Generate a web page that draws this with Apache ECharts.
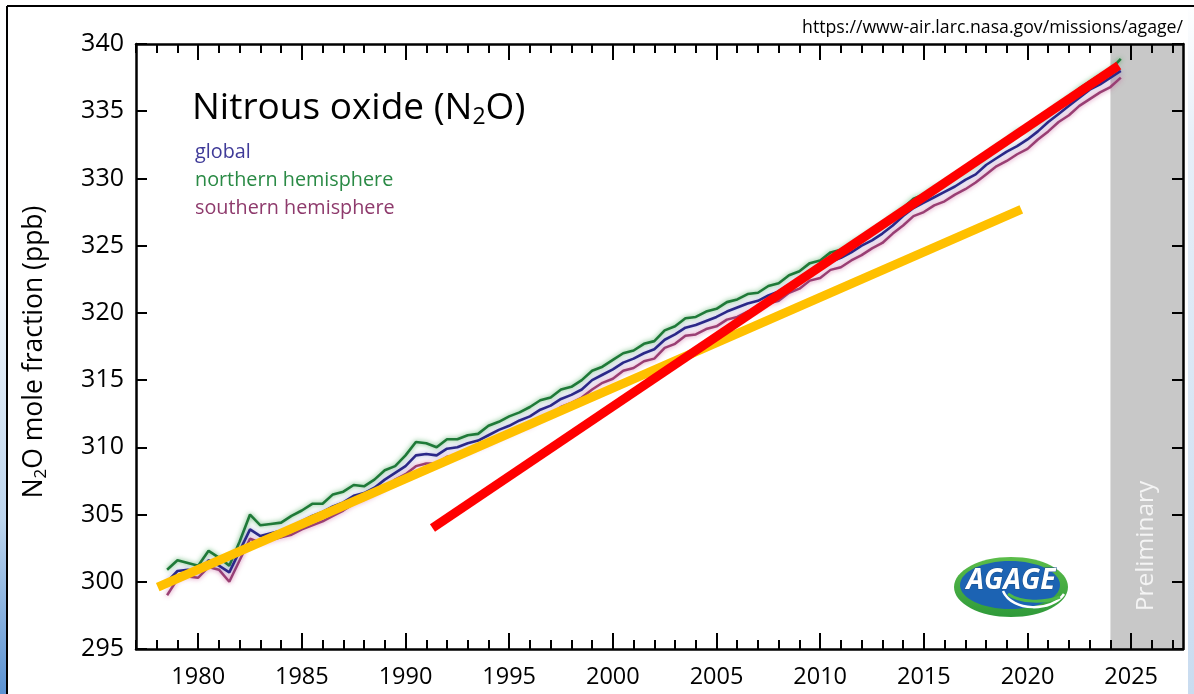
<!DOCTYPE html>
<html><head><meta charset="utf-8">
<script src="https://cdn.jsdelivr.net/npm/echarts@6/dist/echarts.min.js"></script>
<style>html,body{margin:0;padding:0;background:#fff}#c{width:1194px;height:694px}</style>
</head><body><div id="c"></div>
<script>
// ---- data ----
const startYear = 1978.5;   // first sample
const stepYears = 0.5;      // half-year samples
const globalN2O = [
 300.0,300.8,300.9,300.7,301.6,301.2,300.7,302.3,303.9,303.4,
 303.6,303.8,304.1,304.5,304.9,305.2,305.6,305.9,306.4,306.6,
 307.0,307.6,308.1,308.6,309.4,309.5,309.4,309.9,310.0,310.3,
 310.5,310.9,311.3,311.6,312.0,312.3,312.8,313.1,313.6,313.9,
 314.3,315.0,315.4,315.8,316.3,316.6,317.0,317.3,318.0,318.4,
 318.9,319.1,319.4,319.7,320.1,320.4,320.7,320.9,321.3,321.6,
 322.1,322.5,323.0,323.3,323.8,324.1,324.5,325.0,325.4,325.9,
 326.5,327.2,327.8,328.2,328.6,329.0,329.4,329.9,330.3,331.0,
 331.5,332.0,332.4,332.9,333.5,334.2,334.8,335.4,336.0,336.6,
 337.0,337.5,338.0
];
const northN2O = [
 300.9,301.6,301.4,301.2,302.3,301.8,301.2,303.0,305.0,304.2,
 304.3,304.4,304.9,305.3,305.8,305.8,306.5,306.7,307.2,307.1,
 307.6,308.3,308.6,309.4,310.4,310.3,310.0,310.6,310.6,310.9,
 311.0,311.6,311.9,312.3,312.6,313.0,313.5,313.7,314.3,314.5,
 315.0,315.7,316.0,316.5,317.0,317.2,317.7,317.9,318.7,319.0,
 319.6,319.7,320.1,320.3,320.8,321.0,321.4,321.5,322.0,322.2,
 322.8,323.1,323.7,323.9,324.5,324.7,325.2,325.6,326.1,326.5,
 327.2,327.8,328.5,328.8,329.3,329.6,330.1,330.5,331.0,331.6,
 332.3,332.7,333.5,333.6,334.2,334.8,335.5,336.0,336.7,337.2,
 337.7,338.1,338.9
];
const southN2O = [
 299.0,300.2,300.4,300.3,301.1,300.9,300.0,301.6,303.2,302.9,
 303.1,303.3,303.5,303.9,304.2,304.5,304.9,305.3,305.8,306.1,
 306.5,307.0,307.6,308.0,308.6,308.8,308.8,309.3,309.4,309.7,
 310.0,310.3,310.7,311.0,311.4,311.6,312.2,312.5,313.0,313.3,
 313.7,314.3,314.8,315.1,315.7,315.9,316.4,316.6,317.4,317.7,
 318.3,318.4,318.8,319.0,319.5,319.7,320.1,320.2,320.7,320.9,
 321.5,321.8,322.4,322.6,323.2,323.4,323.9,324.3,324.8,325.2,
 325.9,326.5,327.2,327.5,328.0,328.3,328.8,329.2,329.7,330.3,
 330.9,331.3,331.8,332.2,332.9,333.5,334.2,334.7,335.4,335.9,
 336.4,336.8,337.5
];
const redTrend = [[1991.3, 304.0], [2024.4, 338.4]];
const yellowTrend = [[1978.05, 299.6], [2019.7, 327.7]];
const majorYears = [1980, 1985, 1990, 1995, 2000, 2005, 2010, 2015, 2020, 2025];
const minorYears = [1977,1978,1979,1980,1981,1982,1983,1984,1985,1986,1987,1988,1989,1990,1991,1992,1993,1994,1995,1996,1997,1998,1999,2000,2001,2002,2003,2004,2005,2006,2007,2008,2009,2010,2011,2012,2013,2014,2015,2016,2017,2018,2019,2020,2021,2022,2023,2024,2025,2026,2027];
const xMin = 1977, xMax = 2027.5, yMin = 295, yMax = 340, yStep = 5;
const preliminaryFrom = 2024;
const legendNames = ['global', 'northern hemisphere', 'southern hemisphere'];
const legendColors = ['#3f3a98', '#2a8a45', '#8e3a6c'];

const pairs = arr => arr.map((v, i) => [startYear + i * stepYears, v]);
const FONT = '"Open Sans", "Noto Sans", sans-serif';

const chart = echarts.init(document.getElementById('c'), null, {renderer: 'canvas'});

function xAx(pos, ticks, len, showLine, showLabels) {
  return {
    type: 'value', position: pos, min: xMin, max: xMax, z: 10,
    axisLine: {show: showLine, onZero: false, lineStyle: {color: '#000', width: 2.5}},
    axisTick: {show: true, inside: true, length: len, customValues: ticks, lineStyle: {color: '#000', width: 2}},
    axisLabel: showLabels ? {show: true, customValues: majorYears, color: '#000', fontSize: 23.5, fontFamily: FONT, margin: 16,
      formatter: v => String(v)} : {show: false},
    splitLine: {show: false}
  };
}
function yAx(pos, showLabels) {
  return {
    type: 'value', position: pos, min: yMin, max: yMax, interval: yStep, z: 10,
    axisLine: {show: true, onZero: false, lineStyle: {color: '#000', width: 2.5}},
    axisTick: {show: true, inside: true, length: 11, lineStyle: {color: '#000', width: 2}},
    axisLabel: showLabels ? {show: true, color: '#000', fontSize: 25, fontFamily: FONT, margin: 12} : {show: false},
    splitLine: {show: false}
  };
}

const lineSeries = (name, data, color, width, halo) => ({
  name, type: 'line', data: pairs(data), xAxisIndex: 0, yAxisIndex: 0,
  showSymbol: false, smooth: false, z: 3,
  lineStyle: {color, width, shadowColor: halo, shadowBlur: 5}
});

chart.setOption({
  animation: false,
  backgroundColor: '#fff',
  grid: {left: 136, right: 11, top: 44, bottom: 45},
  xAxis: [
    xAx('bottom', majorYears, 16, true, true),
    xAx('bottom', minorYears, 9, false, false),
    xAx('top', majorYears, 16, true, false),
    xAx('top', minorYears, 9, false, false)
  ],
  yAxis: [yAx('left', true), yAx('right', false)],
  series: [
    {
      type: 'line', data: [[xMax, yMin]], showSymbol: false, z: 1, silent: true,
      lineStyle: {opacity: 0},
      markArea: {silent: true, itemStyle: {color: '#c8c8c8'},
        data: [[{xAxis: preliminaryFrom}, {xAxis: xMax}]]}
    },
    lineSeries('southern hemisphere', southN2O, '#9a3f74', 2.5, 'rgba(205,95,155,0.8)'),
    lineSeries('northern hemisphere', northN2O, '#1f7a38', 2.6, 'rgba(60,160,80,0.8)'),
    lineSeries('global', globalN2O, '#2b2888', 2.6, 'rgba(80,80,180,0.5)'),
    {type: 'line', data: yellowTrend, showSymbol: false, z: 5,
     lineStyle: {color: '#ffc000', width: 9, cap: 'butt'}},
    {type: 'line', data: redTrend, showSymbol: false, z: 6,
     lineStyle: {color: '#ff0000', width: 9, cap: 'butt'}}
  ],
  graphic: [
    // slide frame
    {type: 'rect', z: 0, silent: true, shape: {x: 0, y: 0, width: 7, height: 694},
     style: {fill: new echarts.graphic.LinearGradient(0, 0, 0, 1, [
       {offset: 0, color: '#ffffff'}, {offset: 0.4, color: '#f4f8fc'},
       {offset: 0.75, color: '#bcd5ee'}, {offset: 1, color: '#5b92d2'}])}},
    {type: 'rect', z: 0, silent: true, shape: {x: 1188, y: 0, width: 6, height: 694},
     style: {fill: new echarts.graphic.LinearGradient(0, 0, 0, 1, [
       {offset: 0, color: '#ffffff'}, {offset: 0.2, color: '#e6eff8'},
       {offset: 1, color: '#c9dcf0'}])}},
    {type: 'line', z: 100, silent: true, shape: {x1: 7, y1: 6, x2: 1194, y2: 6}, style: {stroke: '#000', lineWidth: 2}},
    {type: 'line', z: 100, silent: true, shape: {x1: 7, y1: 6, x2: 7, y2: 694}, style: {stroke: '#000', lineWidth: 2}},
    // url
    {type: 'text', z: 100, x: 1183, y: 28, style: {text: 'https://www-air.larc.nasa.gov/missions/agage/',
      font: '17.7px ' + FONT, fill: '#000', align: 'right', verticalAlign: 'middle'}},
    // title
    {type: 'text', z: 100, x: 192, y: 108, style: {
      text: '{a|Nitrous oxide (N}{s|2}{a|O)}', verticalAlign: 'middle', align: 'left',
      rich: {a: {fontFamily: FONT, fontSize: 37, fill: '#000', lineHeight: 42, verticalAlign: 'middle'},
             s: {fontFamily: FONT, fontSize: 23, fill: '#000', lineHeight: 22, verticalAlign: 'bottom'}}}},
    // legend labels
    {type: 'text', z: 100, x: 195, y: 152, style: {text: legendNames[0], font: '19.8px ' + FONT, fill: legendColors[0], verticalAlign: 'middle'}},
    {type: 'text', z: 100, x: 195, y: 180, style: {text: legendNames[1], font: '19.8px ' + FONT, fill: legendColors[1], verticalAlign: 'middle'}},
    {type: 'text', z: 100, x: 195, y: 208, style: {text: legendNames[2], font: '19.8px ' + FONT, fill: legendColors[2], verticalAlign: 'middle'}},
    // y axis name
    {type: 'text', z: 100, x: 34, y: 352, rotation: Math.PI / 2, style: {
      text: '{a|N}{s|2}{a|O mole fraction (ppb)}', align: 'center', verticalAlign: 'middle',
      rich: {a: {fontFamily: FONT, fontSize: 26.5, fill: '#000', lineHeight: 32, verticalAlign: 'middle'},
             s: {fontFamily: FONT, fontSize: 17, fill: '#000', lineHeight: 17, verticalAlign: 'bottom'}}}},
    // preliminary label
    {type: 'text', z: 100, x: 1146, y: 546, rotation: Math.PI / 2, style: {
      text: 'Preliminary', font: '24.5px ' + FONT, fill: '#f4f4f4', align: 'center', verticalAlign: 'middle'}},
    // AGAGE logo
    {type: 'ellipse', z: 100, shape: {cx: 1011, cy: 587, rx: 57, ry: 30},
     style: {fill: new echarts.graphic.LinearGradient(0, 0, 0, 1, [{offset: 0, color: '#5cbd4a'}, {offset: 1, color: '#2f9a3a'}])}},
    {type: 'ellipse', z: 101, shape: {cx: 1010, cy: 585, rx: 50, ry: 24}, style: {fill: '#1c63b3'}},
    {type: 'bezierCurve', z: 102, shape: {x1: 1003, y1: 591, x2: 1064, y2: 594, cpx1: 1012, cpy1: 612, cpx2: 1052, cpy2: 612},
     style: {fill: null, stroke: '#ffffff', lineWidth: 2.5}},
    {type: 'bezierCurve', z: 102, shape: {x1: 1008, y1: 594, x2: 1060, y2: 597, cpx1: 1020, cpy1: 603, cpx2: 1045, cpy2: 603},
     style: {fill: null, stroke: '#4db848', lineWidth: 3}},
    {type: 'text', z: 103, x: 1011, y: 581, style: {text: 'AGAGE', font: 'italic bold 28px ' + FONT,
      fill: '#ffffff', stroke: '#1b4f8c', lineWidth: 1, align: 'center', verticalAlign: 'middle'}}
  ]
});
</script>
</body></html>
